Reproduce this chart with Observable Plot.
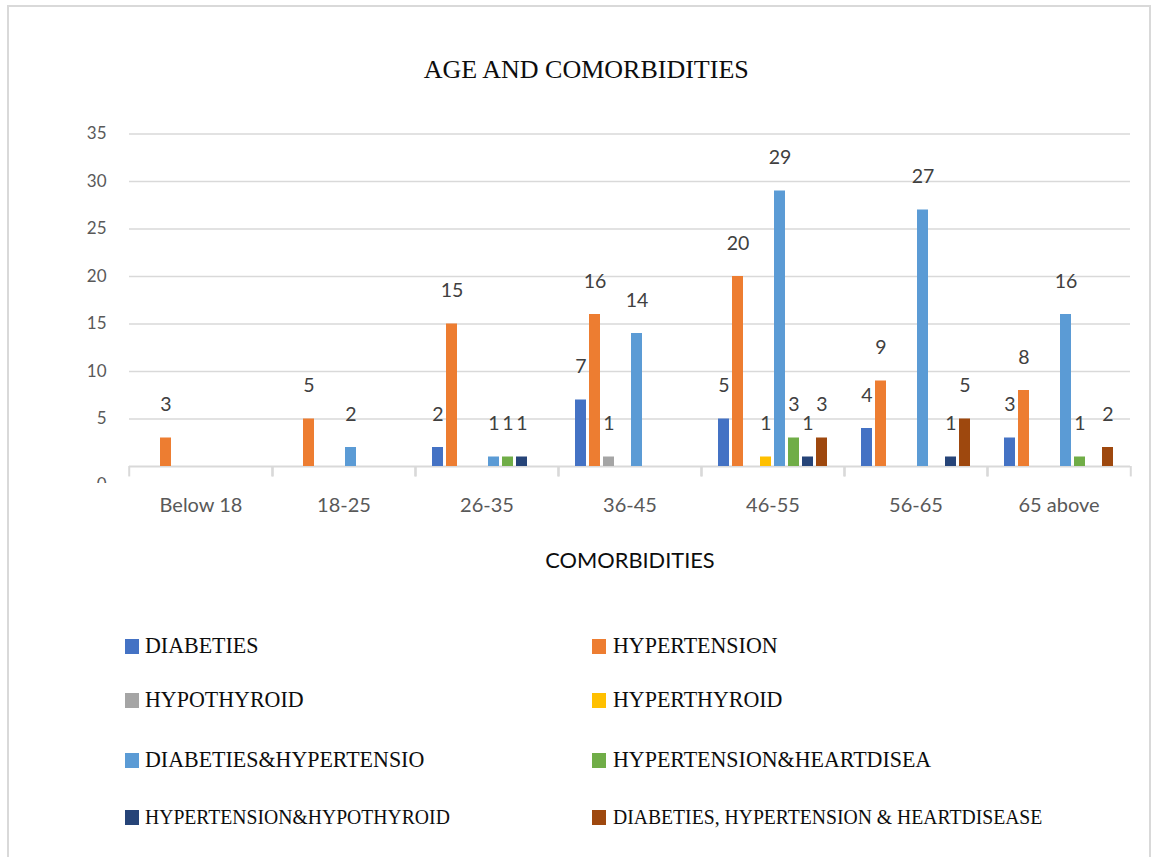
<!DOCTYPE html>
<html>
<head>
<meta charset="utf-8">
<script src="https://cdn.jsdelivr.net/npm/d3@7"></script>
<script src="https://cdn.jsdelivr.net/npm/@observablehq/plot@0.6"></script>
<style>
  html, body { margin: 0; padding: 0; background: #fff; }
  #root { position: relative; width: 1152px; height: 857px; overflow: hidden; background: #fff; }
  #border { position: absolute; left: 7px; top: 5px; width: 1144px; height: 900px; border: 2px solid #d9d9d9; box-sizing: border-box; }
  #chart { position: absolute; left: 0; top: 0; }
  #title { position: absolute; left: 0; width: 1172px; top: 56.5px; text-align: center;
           font-family: "Liberation Serif", serif; font-size: 25px; line-height: 25px; color: #0d0d0d; white-space: nowrap; }
  #title span { display: inline-block; transform: scaleX(1.04); transform-origin: center; }
  #xlabel { position: absolute; left: 0; width: 1260px; text-align: center; font-family: Lato, sans-serif;
            font-size: 21.8px; line-height: 1.2; color: #0d0d0d; white-space: nowrap; }
  #zeroMask { position: absolute; left: 80px; top: 483px; width: 40px; height: 12px; background: #fff; }
  .lg-sw { position: absolute; width: 14px; height: 15px; }
  .lg-tx { position: absolute; font-family: "Liberation Serif", serif; color: #0d0d0d; white-space: nowrap;
           transform: scaleX(0.915); transform-origin: left top; }
</style>
</head>
<body>
<div id="root">
  <div id="border"></div>
  <div id="chart"></div>
  <div id="zeroMask"></div>
  <div id="title"><span>AGE AND COMORBIDITIES</span></div>
  <div id="xlabel">COMORBIDITIES</div>
</div>
<script>
// ---- data ----
const ages = ["Below 18", "18-25", "26-35", "36-45", "46-55", "56-65", "65 above"];
const series = [
  "DIABETIES",
  "HYPERTENSION",
  "HYPOTHYROID",
  "HYPERTHYROID",
  "DIABETIES&HYPERTENSION",
  "HYPERTENSION&HEARTDISEASE",
  "HYPERTENSION&HYPOTHYROID",
  "DIABETIES, HYPERTENSION & HEARTDISEASE"
];
const colors = ["#4472C4", "#ED7D31", "#A5A5A5", "#FFC000", "#5B9BD5", "#70AD47", "#264478", "#9E480E"];
const diabeties                  = [0, 0, 2, 7, 5, 4, 3];
const hypertension               = [3, 5, 15, 16, 20, 9, 8];
const hypothyroid                = [0, 0, 0, 1, 0, 0, 0];
const hyperthyroid               = [0, 0, 0, 0, 1, 0, 0];
const diabetiesHypertension      = [0, 2, 1, 14, 29, 27, 16];
const hypertensionHeartdisease   = [0, 0, 1, 0, 3, 0, 1];
const hypertensionHypothyroid    = [0, 0, 1, 0, 1, 1, 0];
const diabetiesHypertensionHeart = [0, 0, 0, 0, 3, 5, 2];
const yTicks = [5, 10, 15, 20, 25, 30, 35];
// legend text as it appears in the chart (long names are truncated there)
const legendLabels = [
  "DIABETIES", "HYPERTENSION",
  "HYPOTHYROID", "HYPERTHYROID",
  "DIABETIES&HYPERTENSIO", "HYPERTENSION&HEARTDISEA",
  "HYPERTENSION&HYPOTHYROID", "DIABETIES, HYPERTENSION & HEARTDISEASE"
];

const valueArrays = [diabeties, hypertension, hypothyroid, hyperthyroid,
  diabetiesHypertension, hypertensionHeartdisease, hypertensionHypothyroid, diabetiesHypertensionHeart];
const table = [];
ages.forEach((age, i) => series.forEach((s, j) => {
  const v = valueArrays[j][i];
  if (v > 0) table.push({age, series: s, value: v});
}));

// ---- layout ----
const W = 1152, H = 530, ML = 127, MR = 20, MT = 133.5, MB = 64;
const bw = (W - ML - MR) / ages.length;
const grid = "#d9d9d9";

const chart = Plot.plot({
  width: W, height: H,
  marginLeft: ML, marginRight: MR, marginTop: MT, marginBottom: MB,
  style: {fontFamily: "Lato, sans-serif", background: "transparent", overflow: "visible"},
  fx: {domain: ages, padding: 0},
  x: {domain: series, paddingInner: 0.2, paddingOuter: 0.887, axis: null},
  y: {domain: [0, 35], axis: null},
  color: {domain: series, range: colors},
  marks: [
    Plot.ruleY(yTicks, {stroke: grid, strokeWidth: 1.5}),
    Plot.ruleY([0], {stroke: grid, strokeWidth: 2}),
    Plot.ruleX(ages, {fx: d => d, x: null, y1: 0, y2: -1.1, dx: -bw / 2, stroke: grid, strokeWidth: 2}),
    Plot.ruleX(ages, {fx: d => d, x: null, y1: 0, y2: -1.1, dx: bw / 2, stroke: grid, strokeWidth: 2}),
    Plot.barY(table, {fx: "age", x: "series", y: "value", fill: "series"}),
    Plot.text(table, {fx: "age", x: "series", y: "value", text: d => String(d.value),
      dy: -33, lineAnchor: "middle", fontSize: 19.5, fill: "#404040"}),
    Plot.axisY({ticks: yTicks, tickSize: 0, tickPadding: 23, fontSize: 17, fill: "#595959", label: null}),
    Plot.axisY({ticks: [0], tickSize: 0, tickPadding: 23, dy: 18, fontSize: 17, fill: "#595959", label: null}),
    Plot.axisFx({anchor: "bottom", tickSize: 0, tickPadding: 31, fontSize: 20, fill: "#595959", label: null})
  ]
});
document.getElementById("chart").appendChild(chart);

// x label: Lato, baseline at ~568
(function () {
  const el = document.getElementById("xlabel");
  const fs = 21.8;
  el.style.top = (568.3 - 0.987 * fs) + "px";
})();

// ---- legend ----
(function () {
  const root = document.getElementById("root");
  const colX = [125, 592];
  const textX = [145, 612.7];
  const baselines = [652.7, 706.7, 766.7, 824];
  const fontSizes = [24, 24, 24, 21.5];
  const lh = 26;
  series.forEach((s, i) => {
    const col = i % 2, row = Math.floor(i / 2);
    const base = baselines[row], fs = fontSizes[row];
    const sw = document.createElement("div");
    sw.className = "lg-sw";
    sw.style.left = colX[col] + "px";
    sw.style.top = (base - 14) + "px";
    sw.style.background = colors[i];
    root.appendChild(sw);
    const tx = document.createElement("div");
    tx.className = "lg-tx";
    tx.style.fontSize = fs + "px";
    tx.style.lineHeight = lh + "px";
    const baseOff = (lh - 1.107 * fs) / 2 + 0.891 * fs;
    tx.style.left = textX[col] + "px";
    tx.style.top = (base - baseOff) + "px";
    tx.textContent = legendLabels[i];
    root.appendChild(tx);
  });
})();
</script>
</body>
</html>
